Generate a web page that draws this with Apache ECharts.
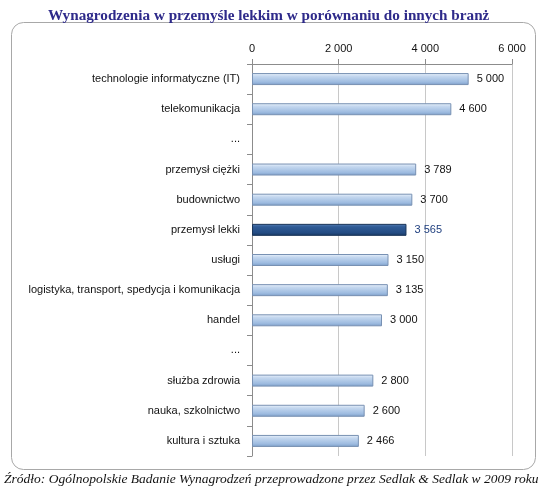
<!DOCTYPE html>
<html>
<head>
<meta charset="utf-8">
<script src="https://cdn.jsdelivr.net/npm/echarts@6/dist/echarts.min.js"></script>
<style>
  html, body { margin: 0; padding: 0; background: #fff; }
  #chart { width: 545px; height: 493px; }
</style>
</head>
<body>
<div id="chart"></div>
<script>
// categories top to bottom, '...' rows are gaps in the source table
const categories = [
  'technologie informatyczne (IT)',
  'telekomunikacja',
  '...',
  'przemysł ciężki',
  'budownictwo',
  'przemysł lekki',
  'usługi',
  'logistyka, transport, spedycja i komunikacja',
  'handel',
  '... ',
  'służba zdrowia',
  'nauka, szkolnictwo',
  'kultura i sztuka'
];
const salaries = [5000, 4600, null, 3789, 3700, 3565, 3150, 3135, 3000, null, 2800, 2600, 2466];
const highlighted = 'przemysł lekki';
const axisTicks = [0, 2000, 4000, 6000];

const fmt = v => String(v).replace(/\B(?=(\d{3})+(?!\d))/g, ' ');

const lightBar = {
  color: new echarts.graphic.LinearGradient(0, 0, 0, 1, [
    { offset: 0, color: '#eef5fd' },
    { offset: 0.25, color: '#c5d8ef' },
    { offset: 0.75, color: '#9dbbe0' },
    { offset: 1, color: '#7b9cc6' }
  ]),
  borderColor: '#7891b3',
  borderWidth: 1
};
const darkBar = {
  color: new echarts.graphic.LinearGradient(0, 0, 0, 1, [
    { offset: 0, color: '#5a82b8' },
    { offset: 0.25, color: '#2f5b96' },
    { offset: 0.75, color: '#244c83' },
    { offset: 1, color: '#17365f' }
  ]),
  borderColor: '#1a3559',
  borderWidth: 1
};

const chart = echarts.init(document.getElementById('chart'));

chart.setOption({
  animation: false,
  title: {
    text: 'Wynagrodzenia w przemyśle lekkim w porównaniu do innych branż',
    left: 43,
    top: 4,
    textStyle: { fontFamily: 'Liberation Serif', fontWeight: 'bold', fontSize: 15.2, color: '#2e2a8a' }
  },
  graphic: [
    {
      type: 'rect',
      shape: { x: 11.5, y: 22.5, width: 524, height: 447, r: 12 },
      style: { fill: 'none', stroke: '#a8a8a8', lineWidth: 1 },
      z: -1
    },
    {
      type: 'text',
      left: 4,
      top: 472,
      style: {
        text: 'Źródło: Ogólnopolskie Badanie Wynagrodzeń przeprowadzone przez Sedlak & Sedlak w 2009 roku',
        font: 'italic 13.5px "Liberation Serif"',
        fill: '#111'
      }
    }
  ],
  grid: { left: 252, right: 33, top: 64, bottom: 37 },
  xAxis: {
    type: 'value',
    position: 'top',
    min: 0,
    max: 6000,
    interval: 2000,
    axisLine: { show: true, lineStyle: { color: '#8c8c8c' } },
    axisTick: { show: true, length: 5, lineStyle: { color: '#8c8c8c' } },
    splitLine: { show: true, lineStyle: { color: '#c8c8c8' } },
    axisLabel: {
      margin: 10,
      fontFamily: 'Liberation Sans',
      fontSize: 11,
      color: '#111',
      formatter: v => axisTicks.includes(v) ? fmt(v) : ''
    }
  },
  yAxis: {
    type: 'category',
    inverse: true,
    data: categories,
    axisLine: { show: true, lineStyle: { color: '#8c8c8c' } },
    axisTick: { show: true, length: 5, lineStyle: { color: '#8c8c8c' } },
    axisLabel: {
      margin: 12,
      fontFamily: 'Liberation Sans',
      fontSize: 11,
      color: '#111',
      formatter: v => v.trim()
    }
  },
  series: [{
    type: 'bar',
    barWidth: 12,
    data: salaries.map((v, i) => {
      const hi = categories[i] === highlighted;
      return {
        value: v,
        itemStyle: hi ? darkBar : lightBar,
        label: { color: hi ? '#1f3f7f' : '#111' }
      };
    }),
    label: {
      show: true,
      position: 'right',
      distance: 8,
      fontFamily: 'Liberation Sans',
      fontSize: 11,
      formatter: p => p.value == null ? '' : fmt(p.value)
    }
  }]
});
</script>
</body>
</html>
